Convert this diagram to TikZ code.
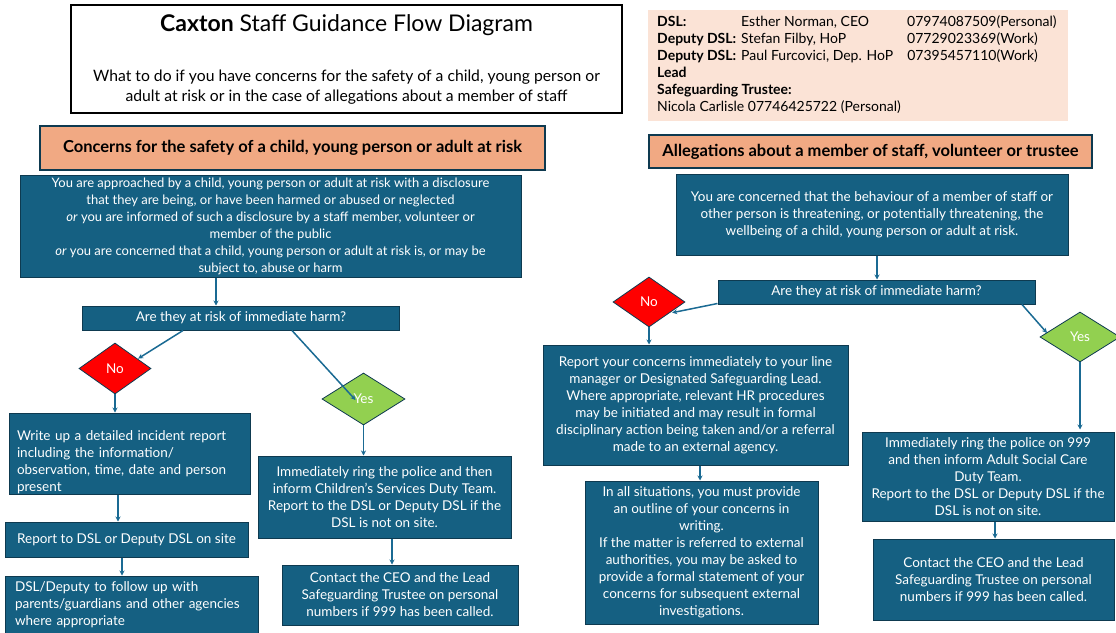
\documentclass[tikz,border=0pt]{standalone}
\usepackage{fontspec}
\setmainfont{Lato}
\usetikzlibrary{shapes.geometric, arrows.meta}
\definecolor{boxblue}{HTML}{156082}
\definecolor{boxedge}{HTML}{0E3A50}
\definecolor{linkblue}{HTML}{1A6A93}
\definecolor{hdrorange}{HTML}{F1A983}
\definecolor{infopeach}{HTML}{FBE3D6}
\definecolor{yesgreen}{HTML}{92D050}

\begin{document}
\begin{tikzpicture}[x=1pt, y=-1pt, >={Stealth[length=5pt,width=5pt]},
    boxsize/.style 2 args={minimum width=#1pt, minimum height=#2pt},
    box/.style={draw=boxedge, line width=1pt, fill=boxblue, text=white, align=center,
      inner sep=0pt, font=\fontsize{13.5}{17}\selectfont},
    hdr/.style={draw=boxedge, line width=1.2pt, fill=hdrorange, inner sep=0pt,
      font=\bfseries\fontsize{16.5}{19}\selectfont},
    nodia/.style={diamond, draw=boxedge, line width=0.8pt, fill=red, text=white,
      inner sep=0pt, font=\fontsize{13.5}{15}\selectfont},
    yesdia/.style={nodia, fill=yesgreen},
    link/.style={->, draw=linkblue, line width=1.5pt}]
  \useasboundingbox (0,0) rectangle (1116,632);

  % heading and contacts
  \node[draw=black, line width=2.5pt, boxsize={551}{108}] (title) at (346.5,59) {};
  \node[font=\fontsize{23}{27}\selectfont] (ttl) at (346.5,25) {\textbf{Caxton} Staff Guidance Flow Diagram};
  \node[font=\fontsize{15.7}{20}\selectfont, align=center] (sub) at (346.5,87)
    {What to do if you have concerns for the safety of a child, young person or\\
     adult at risk or in the case of allegations about a member of staff};
  \node[fill=infopeach, boxsize={420}{111}] (info) at (858,65.5) {};
  \node[anchor=north west, inner sep=0pt, font=\fontsize{14}{17}\selectfont] (contacts) at (657,14.3) {%
    \begin{tabular}{@{}p{84pt}@{}p{166pt}@{}l@{}}
      \textbf{DSL:} & Esther Norman, CEO & 07974087509(Personal)\\
      \textbf{Deputy DSL:} & Stefan Filby, HoP & 07729023369(Work)\\
      \textbf{Deputy DSL:} & Paul Furcovici, Dep. HoP & 07395457110(Work)\\
      \textbf{Lead} & & \\
      \multicolumn{3}{@{}l}{\textbf{Safeguarding Trustee:}}\\
      \multicolumn{3}{@{}l}{Nicola Carlisle 07746425722 (Personal)}
    \end{tabular}};

  % concerns for a child, young person or adult at risk
  \node[hdr, boxsize={505}{44}] (hl) at (292.5,148) {Concerns for the safety of a child, young person or adult at risk};
  \node[box, boxsize={501}{102}, font=\fontsize{13}{17}\selectfont] (l1) at (270.5,226)
    {You are approached by a child, young person or adult at risk with a disclosure\\
     that they are being, or have been harmed or abused or neglected\\
     \textit{or} you are informed of such a disclosure by a staff member, volunteer or\\
     member of the public\\
     \textit{or} you are concerned that a child, young person or adult at risk is, or may be\\
     subject to, abuse or harm};
  \node[box, boxsize={317}{24}] (ql) at (241,318) {Are they at risk of immediate harm?};
  \node[nodia, boxsize={72}{51}] (nol) at (115,368.5) {No};
  \node[yesdia, boxsize={83}{52}] (yesl) at (363.5,399) {Yes};
  \node[box, boxsize={241}{81}, align=left, text width=225pt] (wl) at (129.5,453.5)
    {\rule{0pt}{26.75pt}Write up a detailed incident report\\
     including the information/\\
     observation, time, date and person\\
     present};
  \node[box, boxsize={243}{35}] (rep) at (126.5,539.5) {Report to DSL or Deputy DSL on site};
  \node[box, boxsize={253}{58}, align=left, text width=233pt] (dsl) at (131.5,605)
    {DSL/Deputy to follow up with\\
     parents/guardians and other agencies\\
     where appropriate};
  \node[box, boxsize={253}{82}] (ylbox) at (384.5,497)
    {Immediately ring the police and then\\
     inform Children’s Services Duty Team.\\
     Report to the DSL or Deputy DSL if the\\
     DSL is not on site.};
  \node[box, boxsize={236}{60}] (clbox) at (400,595)
    {Contact the CEO and the Lead\\
     Safeguarding Trustee on personal\\
     numbers if 999 has been called.};

  % allegations about staff, volunteers or trustees
  \node[hdr, boxsize={443}{33}] (hr) at (870.5,151.5) {Allegations about a member of staff, volunteer or trustee};
  \node[box, boxsize={392}{81}] (r1) at (872,214.5)
    {You are concerned that the behaviour of a member of staff or\\
     other person is threatening, or potentially threatening, the\\
     wellbeing of a child, young person or adult at risk.};
  \node[box, boxsize={317}{24}] (qr) at (876.5,292) {Are they at risk of immediate harm?};
  \node[nodia, boxsize={72}{50}] (nor) at (649,302) {No};
  \node[yesdia, boxsize={80}{50}] (yesr) at (1080,337) {Yes};
  \node[box, boxsize={305}{120}] (rrbox) at (695.5,405)
    {Report your concerns immediately to your line\\
     manager or Designated Safeguarding Lead.\\
     Where appropriate, relevant HR procedures\\
     may be initiated and may result in formal\\
     disciplinary action being taken and/or a referral\\
     made to an external agency.};
  \node[box, boxsize={233}{143}] (allbox) at (701.5,552.5)
    {In all situations, you must provide\\
     an outline of your concerns in\\
     writing.\\
     If the matter is referred to external\\
     authorities, you may be asked to\\
     provide a formal statement of your\\
     concerns for subsequent external\\
     investigations.};
  \node[box, boxsize={252}{89}] (yrbox) at (988,476.5)
    {Immediately ring the police on 999\\
     and then inform Adult Social Care\\
     Duty Team.\\
     Report to the DSL or Deputy DSL if the\\
     DSL is not on site.};
  \node[box, boxsize={241}{81}] (crbox) at (993.5,579.5)
    {Contact the CEO and the Lead\\
     Safeguarding Trustee on personal\\
     numbers if 999 has been called.};

  % connectors
  \path ([xshift=-54.5pt]l1.south) edge[link] ([xshift=-25pt]ql.north)
        ([xshift=-58pt]ql.south) edge[link] ([xshift=5pt,yshift=-3pt]nol.north east)
        ([xshift=51pt]ql.south) edge[link] ([xshift=-8pt,yshift=-1pt]yesl.center)
        (nol.south) edge[link] ([xshift=-14.5pt]wl.north)
        ([xshift=-11.5pt]wl.south) edge[link] ([xshift=-8.5pt]rep.north)
        ([xshift=-4.5pt]rep.south) edge[link] ([xshift=-9.5pt]dsl.north)
        (yesl.south) edge[link] ([xshift=-21pt]ylbox.north)
        ([xshift=7.5pt]ylbox.south) edge[link] ([xshift=-8pt]clbox.north)
        ([xshift=5pt]r1.south) edge[link] ([xshift=0.5pt]qr.north)
        ([yshift=1pt]qr.south west) edge[link] ([xshift=5pt,yshift=2pt]nor.south east)
        ([xshift=-13.5pt]qr.south east) edge[link] ([xshift=-33pt,yshift=4pt]yesr.center)
        (nor.south) edge[link] ([xshift=-46.5pt]rrbox.north)
        ([xshift=4.5pt]rrbox.south) edge[link] ([xshift=-1.5pt]allbox.north)
        (yesr.south) edge[link] ([xshift=92pt,yshift=2pt]yrbox.north)
        ([xshift=7pt]yrbox.south) edge[link] ([xshift=1.5pt]crbox.north);
\end{tikzpicture}
\end{document}
